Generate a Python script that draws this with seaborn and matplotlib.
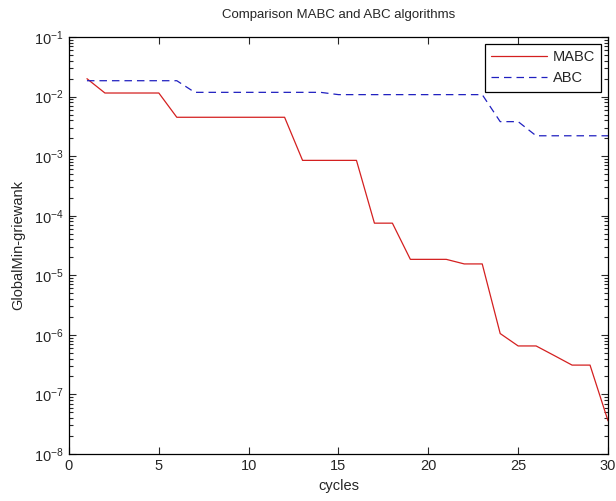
import numpy as np
import pandas as pd
import matplotlib
matplotlib.use("Agg")
import matplotlib.pyplot as plt
import seaborn as sns
from matplotlib.ticker import FixedLocator, NullFormatter

cycles = list(range(1, 31))
mabc = [2.0e-2, 1.15e-2, 1.15e-2, 1.15e-2, 1.15e-2,
        4.5e-3, 4.5e-3, 4.5e-3, 4.5e-3, 4.5e-3, 4.5e-3, 4.5e-3,
        8.5e-4, 8.5e-4, 8.5e-4, 8.5e-4,
        7.5e-5, 7.5e-5,
        1.85e-5, 1.85e-5, 1.85e-5,
        1.55e-5, 1.55e-5,
        1.05e-6, 6.5e-7, 6.5e-7, 4.5e-7, 3.1e-7, 3.1e-7, 3.6e-8]
abc = [1.85e-2, 1.85e-2, 1.85e-2, 1.85e-2, 1.85e-2, 1.85e-2,
       1.18e-2, 1.18e-2, 1.18e-2, 1.18e-2, 1.18e-2, 1.18e-2, 1.18e-2, 1.18e-2,
       1.08e-2, 1.08e-2, 1.08e-2, 1.08e-2, 1.08e-2, 1.08e-2, 1.08e-2, 1.08e-2, 1.08e-2,
       3.8e-3, 3.8e-3,
       2.2e-3, 2.2e-3, 2.2e-3, 2.2e-3, 2.2e-3]
series = ["MABC", "ABC"]
xticks = [0, 5, 10, 15, 20, 25, 30]
decades = list(range(-8, 0))  # 10^-8 .. 10^-1

df = pd.DataFrame({
    "cycles": cycles * 2,
    "value": mabc + abc,
    "algo": [series[0]] * len(mabc) + [series[1]] * len(abc),
})

sns.set_style("ticks")
plt.rcParams['font.family'] = ['Liberation Sans', 'DejaVu Sans']
plt.rcParams['font.size'] = 10

fig = plt.figure(figsize=(6.16, 5.01), dpi=100)
ax = fig.add_axes([0.112, 0.094, 0.875, 0.832])

sns.lineplot(data=df, x="cycles", y="value", hue="algo", style="algo",
             palette={"MABC": "#d42020", "ABC": "#2020c0"},
             dashes={"MABC": "", "ABC": (6, 4)},
             linewidth=0.9, ax=ax)

ax.set_yscale("log")
ax.set_xlim(0, 30)
ax.set_ylim(1e-8, 1e-1)
ax.set_xticks(xticks)
ax.set_yticks([10.0 ** d for d in decades])
minors = [m * 10.0 ** d for d in decades[:-1] for m in range(2, 10)]
ax.yaxis.set_minor_locator(FixedLocator(minors))
ax.yaxis.set_minor_formatter(NullFormatter())
ax.tick_params(which="both", direction="in", top=True, right=True, labelsize=10.5, width=0.8, pad=4)
ax.tick_params(which="major", length=5)
ax.tick_params(which="minor", length=3)
for s in ax.spines.values():
    s.set_linewidth(0.9)
    s.set_color("black")

ax.set_title("Comparison MABC and ABC algorithms", fontsize=9.5, pad=14)
ax.set_xlabel("cycles", fontsize=10.5, labelpad=4)
ax.set_ylabel("GlobalMin-griewank", fontsize=10.5, labelpad=6)

leg = ax.legend(loc="upper right", fancybox=False, framealpha=1, edgecolor="black",
                fontsize=10.5, handlelength=3.8, borderaxespad=0.45,
                labelspacing=0.5, borderpad=0.45, handletextpad=0.4)
leg.get_frame().set_linewidth(0.9)

fig.savefig("out.png", dpi=100)
